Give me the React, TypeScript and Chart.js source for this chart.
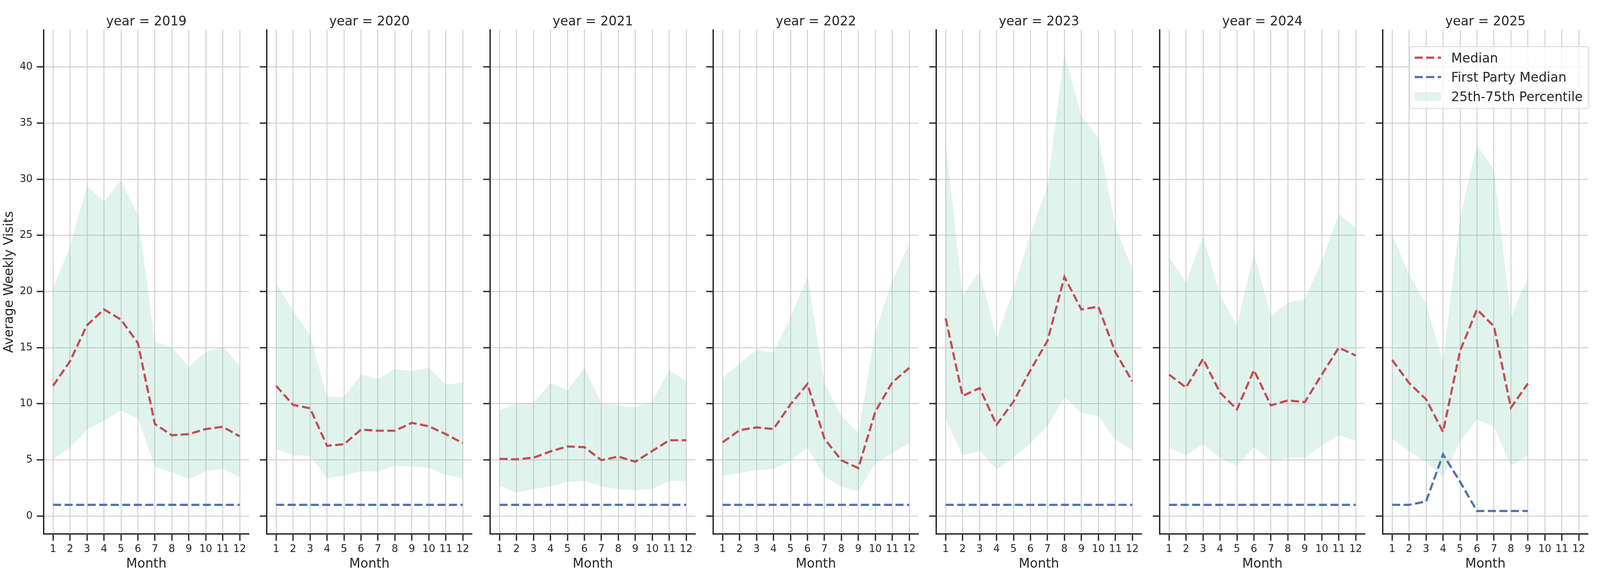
import React, { useEffect, useRef } from 'react';
import { Chart, registerables } from 'chart.js';

Chart.register(...registerables);

// ---------- data ----------
const years = [2019, 2020, 2021, 2022, 2023, 2024, 2025];
const months = [1, 2, 3, 4, 5, 6, 7, 8, 9, 10, 11, 12];
const yTicks = [0, 5, 10, 15, 20, 25, 30, 35, 40];
const seriesNames = ['Median', 'First Party Median', '25th-75th Percentile'];

const medianByYear = [
  [11.6, 13.8, 17.0, 18.4, 17.5, 15.4, 8.2, 7.2, 7.3, 7.75, 7.95, 7.1],
  [11.6, 9.9, 9.6, 6.26, 6.4, 7.7, 7.6, 7.6, 8.3, 8.0, 7.3, 6.5],
  [5.1, 5.05, 5.2, 5.76, 6.2, 6.14, 4.98, 5.3, 4.84, 5.8, 6.75, 6.75],
  [6.57, 7.65, 7.9, 7.75, 9.95, 11.76, 6.9, 4.97, 4.27, 9.3, 11.9, 13.2],
  [17.6, 10.7, 11.4, 8.13, 10.2, 13.0, 15.6, 21.3, 18.4, 18.65, 14.6, 12.0],
  [12.6, 11.45, 14.0, 11.0, 9.5, 13.0, 9.86, 10.3, 10.15, 12.6, 15.0, 14.3],
  [13.9, 11.85, 10.4, 7.5, 14.7, 18.4, 16.9, 9.65, 11.8, null, null, null],
];

const firstPartyByYear = [
  [1, 1, 1, 1, 1, 1, 1, 1, 1, 1, 1, 1],
  [1, 1, 1, 1, 1, 1, 1, 1, 1, 1, 1, 1],
  [1, 1, 1, 1, 1, 1, 1, 1, 1, 1, 1, 1],
  [1, 1, 1, 1, 1, 1, 1, 1, 1, 1, 1, 1],
  [1, 1, 1, 1, 1, 1, 1, 1, 1, 1, 1, 1],
  [1, 1, 1, 1, 1, 1, 1, 1, 1, 1, 1, 1],
  [1, 1, 1.3, 5.5, 3.07, 0.45, 0.45, 0.45, 0.45, null, null, null],
];

const p25ByYear = [
  [5.1, 6.1, 7.7, 8.5, 9.4, 8.7, 4.4, 3.9, 3.3, 4.0, 4.2, 3.5],
  [6.0, 5.4, 5.36, 3.37, 3.6, 4.0, 3.94, 4.5, 4.4, 4.3, 3.7, 3.34],
  [2.7, 2.1, 2.4, 2.65, 3.06, 3.15, 2.63, 2.4, 2.3, 2.4, 3.15, 3.1],
  [3.6, 3.84, 4.1, 4.2, 4.97, 6.1, 3.55, 2.63, 2.2, 4.7, 5.6, 6.5],
  [8.65, 5.4, 5.8, 4.2, 5.2, 6.5, 8.0, 10.6, 9.2, 8.9, 6.8, 5.9],
  [6.1, 5.4, 6.4, 5.2, 4.46, 6.14, 4.9, 5.2, 5.2, 6.3, 7.2, 6.7],
  [6.9, 5.8, 4.8, 3.5, 6.65, 8.6, 7.97, 4.5, 5.4, null, null, null],
];

const p75ByYear = [
  [20.3, 24.0, 29.4, 28.0, 29.9, 26.8, 15.5, 15.0, 13.3, 14.6, 15.1, 13.4],
  [20.7, 18.3, 16.1, 10.6, 10.6, 12.6, 12.2, 13.1, 12.9, 13.2, 11.7, 11.9],
  [9.4, 10.0, 10.1, 11.85, 11.2, 13.2, 10.0, 9.9, 9.7, 10.2, 13.0, 12.0],
  [12.3, 13.6, 14.8, 14.6, 17.7, 21.3, 11.85, 8.9, 7.4, 16.4, 21.0, 24.2],
  [33.4, 19.6, 21.8, 15.8, 20.2, 25.1, 29.4, 41.15, 35.6, 33.7, 25.8, 22.0],
  [23.1, 20.8, 24.9, 19.7, 16.9, 23.4, 17.8, 19.0, 19.3, 22.7, 26.9, 25.7],
  [25.1, 21.5, 18.9, 13.7, 26.5, 33.1, 30.8, 17.7, 21.3, null, null, null],
];

// ---------- style ----------
const FONT = "'DejaVu Sans', sans-serif";
const INK = '#262626';
const GRID = '#cccccc';
const RED = '#C44E52';
const BLUE = '#4C72B0';
const BAND = 'rgba(102,194,165,0.2)';
const LW = 5.56;
const DASH = [20.6, 8.9];

// design geometry (for a 5250 x 1500 frame)
const REF_W = 5250;
const H = 1500;
const REF_STEP = 732.3;
const REF_AXIS_LEFT = 143.5;
const REF_PLOT_W = 673.5;
const TOP = 76.5;
const XAXIS_H = 133;

Chart.defaults.font.family = FONT;
Chart.defaults.color = INK;

const toPoints = (arr: (number | null)[]) =>
  months
    .map((m, i) => ({ x: m, y: arr[i] }))
    .filter((p) => p.y !== null && p.y !== undefined);

const decorPlugin = {
  id: 'panelDecor',
  afterDraw(chart: any, _args: any, opts: any) {
    const { ctx, chartArea: ca } = chart;
    ctx.save();
    ctx.fillStyle = INK;
    ctx.font = `33px ${FONT}`;
    ctx.textAlign = 'center';
    ctx.textBaseline = 'alphabetic';
    ctx.fillText(opts.title, (ca.left + ca.right) / 2, ca.top - 12);

    if (opts.legend) {
      const right = ca.right + 2;
      const w = 459;
      const left = right - w;
      const top = ca.top + 43;
      const h = 158;
      ctx.beginPath();
      ctx.roundRect(left, top, w, h, 5);
      ctx.fillStyle = 'rgba(255,255,255,0.8)';
      ctx.fill();
      ctx.lineWidth = 2.2;
      ctx.strokeStyle = '#d6d6d6';
      ctx.stroke();

      const hx = left + 13;
      const hl = 67.5;
      const tx = left + 106.5;
      const rows = [top + 28.1, top + 77.7, top + 127.4];
      const colors = [RED, BLUE];
      ctx.lineCap = 'butt';
      for (let i = 0; i < 2; i++) {
        ctx.beginPath();
        ctx.setLineDash(DASH);
        ctx.lineWidth = LW;
        ctx.strokeStyle = colors[i];
        ctx.moveTo(hx, rows[i]);
        ctx.lineTo(hx + hl, rows[i]);
        ctx.stroke();
      }
      ctx.setLineDash([]);
      ctx.fillStyle = BAND;
      ctx.fillRect(hx, rows[2] - 10.7, hl, 21.4);

      ctx.fillStyle = INK;
      ctx.font = `33px ${FONT}`;
      ctx.textAlign = 'left';
      ctx.textBaseline = 'alphabetic';
      for (let i = 0; i < 3; i++) {
        ctx.fillText(seriesNames[i], tx, rows[i] + 12);
      }
    }
    ctx.restore();
  },
};

type Geo = { step: number; axisLeft: number; plotW: number; canvasW: number };

function Panel({ index, geo }: { index: number; geo: Geo }) {
  const ref = useRef<HTMLCanvasElement | null>(null);
  useEffect(() => {
    if (!ref.current) return;
    const first = index === 0;
    const yTitleMid = geo.axisLeft - 87.5;
    const chart = new Chart(ref.current, {
      type: 'line',
      data: {
        datasets: [
          {
            label: seriesNames[0],
            data: toPoints(medianByYear[index]),
            borderColor: RED,
            borderWidth: LW,
            borderDash: DASH,
            borderCapStyle: 'butt',
            pointRadius: 0,
            tension: 0,
            fill: false,
          },
          {
            label: seriesNames[1],
            data: toPoints(firstPartyByYear[index]),
            borderColor: BLUE,
            borderWidth: LW,
            borderDash: DASH,
            borderCapStyle: 'butt',
            pointRadius: 0,
            tension: 0,
            fill: false,
          },
          {
            label: '25th',
            data: toPoints(p25ByYear[index]),
            borderColor: 'rgba(0,0,0,0)',
            borderWidth: 0,
            pointRadius: 0,
            tension: 0,
            fill: false,
          },
          {
            label: seriesNames[2],
            data: toPoints(p75ByYear[index]),
            borderColor: 'rgba(0,0,0,0)',
            borderWidth: 0,
            backgroundColor: BAND,
            pointRadius: 0,
            tension: 0,
            fill: '-1',
          },
        ],
      },
      options: {
        animation: false,
        responsive: false,
        devicePixelRatio: 1,
        layout: {
          padding: { top: TOP, left: 0, right: geo.canvasW - geo.axisLeft - geo.plotW, bottom: 0 },
        },
        plugins: {
          legend: { display: false },
          tooltip: { enabled: false },
          // @ts-ignore
          panelDecor: { title: `year = ${years[index]}`, legend: index === years.length - 1 },
        },
        scales: {
          x: {
            type: 'linear',
            min: 0.45,
            max: 12.55,
            afterBuildTicks: (s: any) => {
              s.ticks = months.map((v) => ({ value: v }));
            },
            afterFit: (s: any) => {
              s.height = XAXIS_H;
            },
            grid: {
              color: GRID,
              lineWidth: 2.2,
              drawTicks: true,
              tickLength: 17,
              tickColor: INK,
              tickWidth: 3.3,
            },
            border: { display: true, color: INK, width: 3.5 },
            ticks: {
              autoSkip: false,
              maxRotation: 0,
              minRotation: 0,
              padding: 6.5,
              color: INK,
              font: { size: 26, family: FONT },
              callback: (v: any) => String(v),
            },
            title: {
              display: true,
              text: 'Month',
              color: INK,
              font: { size: 33, family: FONT },
              padding: { top: 0, bottom: 35.7 },
            },
          },
          y: {
            type: 'linear',
            min: -1.6,
            max: 43.3,
            afterBuildTicks: (s: any) => {
              s.ticks = yTicks.map((v) => ({ value: v }));
            },
            afterFit: (s: any) => {
              s.width = geo.axisLeft;
            },
            grid: {
              color: GRID,
              lineWidth: 2.2,
              drawTicks: true,
              tickLength: 18,
              tickColor: INK,
              tickWidth: 3.3,
            },
            border: { display: true, color: INK, width: 3.5 },
            ticks: {
              padding: 10.5,
              color: INK,
              font: { size: 26, family: FONT },
              callback: (v: any) => (first ? String(v) : ''),
            },
            title: {
              display: first,
              text: 'Average Weekly Visits',
              color: INK,
              font: { size: 33, family: FONT },
              padding: { top: Math.max(0, yTitleMid - 19.8), bottom: 0 },
            },
          },
        },
      } as any,
      plugins: [decorPlugin],
    });
    return () => chart.destroy();
  }, [index, geo.step, geo.axisLeft, geo.plotW, geo.canvasW]);

  return (
    <div
      style={{
        position: 'absolute',
        left: Math.round(index * geo.step),
        top: 0,
        width: geo.canvasW,
        height: H,
      }}
    >
      <canvas
        ref={ref}
        width={geo.canvasW}
        height={H}
        style={{ width: geo.canvasW, height: H, display: 'block' }}
      />
    </div>
  );
}

export default function App() {
  // Fit the 5250-wide design into the actual viewport width (horizontal geometry only).
  const vw = typeof window !== 'undefined' && window.innerWidth ? window.innerWidth : REF_W;
  const W = Math.min(vw, REF_W);
  const k = W / REF_W;
  const geo: Geo = {
    step: REF_STEP * k,
    axisLeft: Math.round(REF_AXIS_LEFT * k * 2) / 2,
    plotW: Math.round(REF_PLOT_W * k * 2) / 2,
    canvasW: Math.round((REF_AXIS_LEFT + REF_PLOT_W) * k + 20),
  };
  return (
    <div
      style={{
        position: 'absolute',
        left: 0,
        top: 0,
        width: W,
        height: H,
        overflow: 'hidden',
        background: '#ffffff',
      }}
    >
      {years.map((y, i) => (
        <Panel key={y} index={i} geo={geo} />
      ))}
    </div>
  );
}
